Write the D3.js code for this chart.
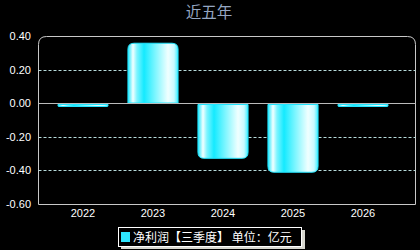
<!DOCTYPE html>
<html>
<head>
<meta charset="utf-8">
<script src="https://cdn.jsdelivr.net/npm/d3@7"></script>
<style>
  body { margin: 0; background: #000; }
  text { font-family: "Liberation Sans", Arial, sans-serif; }
</style>
</head>
<body>
<div id="vis"></div>
<script>
// data
const years = ["2022", "2023", "2024", "2025", "2026"];
const profit = [-0.012, 0.357, -0.328, -0.411, -0.012];
const yTicks = [0.40, 0.20, 0.00, -0.20, -0.40, -0.60];
const gridTicks = [0.20, -0.20, -0.40];

const FRAME_WIDTH = 420;
const FRAME_HEIGHT = 250;
const PLOT = {left: 38.5, right: 415.5, top: 36.5, bottom: 204.5};

const svg = d3.select("#vis")
  .append("svg")
    .attr("width", FRAME_WIDTH)
    .attr("height", FRAME_HEIGHT)
    .style("background", "#000");

// bar gradient
const defs = svg.append("defs");
const grad = defs.append("linearGradient")
    .attr("id", "barGrad")
    .attr("x1", "0").attr("x2", "1").attr("y1", "0").attr("y2", "0");
[[0, "#1ee8ff"], [0.1, "#f4ffff"], [0.18, "#7ff4ff"], [0.32, "#14eaff"],
 [0.55, "#7ff6ff"], [0.8, "#f0ffff"], [0.92, "#c8faff"], [1, "#40eeff"]]
  .forEach(s => grad.append("stop").attr("offset", s[0]).attr("stop-color", s[1]));

const Y_SCALE = d3.scaleLinear()
  .domain([-0.6, 0.4])
  .range([204, 36]);

const X_SCALE = d3.scaleBand()
  .domain(years)
  .range([48, 398])
  .paddingInner(0.27)
  .paddingOuter(0.135);

// title
svg.append("text")
  .attr("x", 209).attr("y", 18)
  .attr("text-anchor", "middle")
  .attr("fill", "#94a6c2")
  .attr("font-size", 15.5)
  .style("font-family", "'Noto Sans CJK SC', sans-serif")
  .text("近五年");

// frame: rounded top corners only
const r = 8;
svg.append("path")
  .attr("d", `M${PLOT.left},${PLOT.bottom} V${PLOT.top + r} Q${PLOT.left},${PLOT.top} ${PLOT.left + r},${PLOT.top}
              H${PLOT.right - r} Q${PLOT.right},${PLOT.top} ${PLOT.right},${PLOT.top + r} V${PLOT.bottom} Z`)
  .attr("fill", "none")
  .attr("stroke", "#c8c8c8")
  .attr("stroke-width", 1);

// dashed grid
svg.selectAll(".grid")
  .data(gridTicks)
  .enter()
  .append("line")
    .attr("x1", PLOT.left).attr("x2", PLOT.right)
    .attr("y1", d => Math.round(Y_SCALE(d)) + 0.5)
    .attr("y2", d => Math.round(Y_SCALE(d)) + 0.5)
    .attr("stroke", "#b8dcdc")
    .attr("stroke-dasharray", "3,2");

// y tick labels
svg.selectAll(".ylab")
  .data(yTicks)
  .enter()
  .append("text")
    .attr("x", 31)
    .attr("y", d => Y_SCALE(d) + 4)
    .attr("text-anchor", "end")
    .attr("fill", "#fff")
    .attr("font-size", 11)
    .text(d => d.toFixed(2));

// bars with rounded end away from zero
const zeroY = Math.round(Y_SCALE(0)) + 0.5;
function barPath(d, i) {
  const x0 = X_SCALE(years[i]) + 0.5;
  const w = X_SCALE.bandwidth() - 1;
  const y0 = zeroY + (d < 0 ? 1 : -0.5);
  let y1 = Y_SCALE(d);
  if (d < 0 && y1 - y0 < 2) y1 = y0 + 2;
  const h = Math.abs(y1 - y0);
  const rr = Math.min(6, h / 2, w / 2);
  if (d >= 0) {
    return `M${x0},${y0} V${y1 + rr} Q${x0},${y1} ${x0 + rr},${y1} H${x0 + w - rr}
            Q${x0 + w},${y1} ${x0 + w},${y1 + rr} V${y0} Z`;
  }
  return `M${x0},${y0} V${y1 - rr} Q${x0},${y1} ${x0 + rr},${y1} H${x0 + w - rr}
          Q${x0 + w},${y1} ${x0 + w},${y1 - rr} V${y0} Z`;
}

svg.selectAll(".bar")
  .data(profit)
  .enter()
  .append("path")
    .attr("d", barPath)
    .attr("fill", "url(#barGrad)")
    .attr("stroke", "#22e6ff")
    .attr("stroke-width", 1);

// zero line
svg.append("line")
  .attr("x1", PLOT.left).attr("x2", PLOT.right)
  .attr("y1", zeroY)
  .attr("y2", zeroY)
  .attr("stroke", "#bbbbbb");

// x labels
svg.selectAll(".xlab")
  .data(years)
  .enter()
  .append("text")
    .attr("x", d => X_SCALE(d) + X_SCALE.bandwidth() / 2)
    .attr("y", 217)
    .attr("text-anchor", "middle")
    .attr("fill", "#fff")
    .attr("font-size", 11)
    .text(d => d);

// legend
svg.append("rect")
  .attr("x", 121).attr("y", 230)
  .attr("width", 184).attr("height", 19)
  .attr("fill", "#d8d8d0");
svg.append("rect")
  .attr("x", 118.5).attr("y", 227.5)
  .attr("width", 183).attr("height", 19)
  .attr("fill", "#000")
  .attr("stroke", "#fff");
svg.append("rect")
  .attr("x", 121).attr("y", 232)
  .attr("width", 9).attr("height", 10)
  .attr("fill", "#2ee6ff");
svg.append("text")
  .attr("x", 133).attr("y", 242)
  .attr("fill", "#fff")
  .attr("font-size", 12)
  .style("font-family", "'Noto Sans CJK SC', sans-serif")
  .text("净利润【三季度】 单位：亿元");
</script>
</body>
</html>
